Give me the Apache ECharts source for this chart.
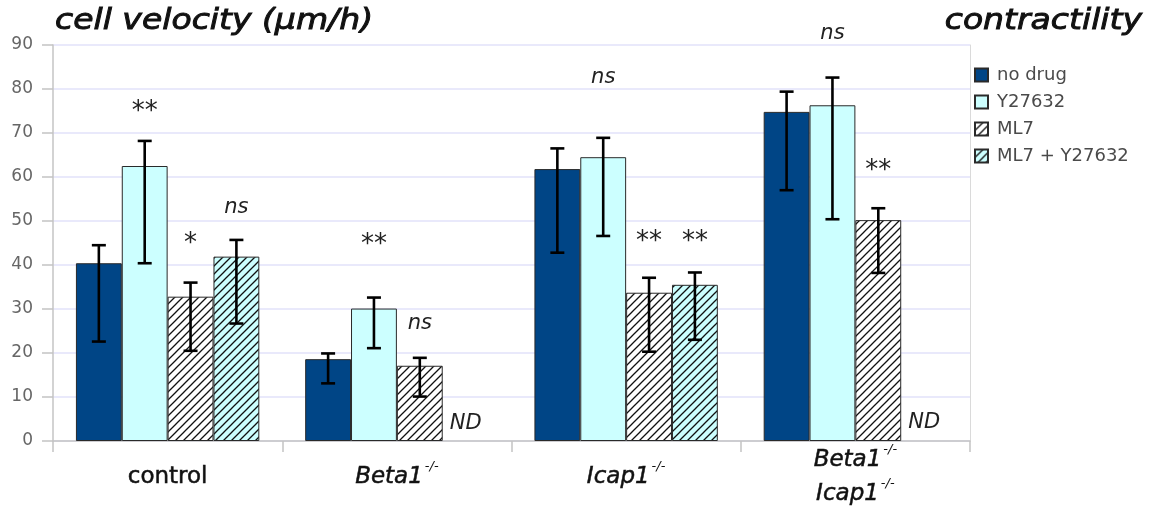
<!DOCTYPE html>
<html>
<head>
<meta charset="utf-8">
<script src="https://cdn.jsdelivr.net/npm/echarts@6/dist/echarts.min.js"></script>
<style>html,body{margin:0;padding:0;background:#fff}#c{width:1152px;height:506px}</style>
</head>
<body>
<div id="c"></div>
<script>
// ---- data ----
const categories = ['control', 'Beta1-/-', 'Icap1-/-', 'Beta1-/-\nIcap1-/-'];
const seriesNames = ['no drug', 'Y27632', 'ML7', 'ML7 + Y27632'];
const noDrug = [40.4, 18.6, 61.8, 74.8];
const y27632 = [62.5, 30.1, 64.5, 76.3];
const ml7 = [32.8, 17.1, 33.7, 50.2];
const ml7y = [41.9, null, 35.5, null];
const noDrugLow = [22.6, 13.1, 42.8, 57.0];
const noDrugHigh = [44.5, 19.9, 66.5, 79.4];
const y27632Low = [40.4, 21.1, 46.6, 50.4];
const y27632High = [68.2, 32.6, 68.9, 82.6];
const ml7Low = [20.5, 10.1, 20.3, 38.2];
const ml7High = [36.0, 18.9, 37.1, 52.9];
const ml7yLow = [26.7, null, 23.0, null];
const ml7yHigh = [45.7, null, 38.3, null];
// annotations: category index, bar index, y value, text
const annCat = [0, 0, 0, 1, 1, 1, 2, 2, 2, 3, 3, 3];
const annBar = [1, 2, 3, 1, 2, 3, 1, 2, 3, 1, 2, 3];
const annY = [74.8, 44.7, 53.0, 44.5, 26.6, 3.9, 82.7, 45.2, 45.2, 92.7, 61.3, 4.1];
const annText = ['**', '*', 'ns', '**', 'ns', 'ND', 'ns', '**', '**', 'ns', '**', 'ND'];
const yTicks = [0, 10, 20, 30, 40, 50, 60, 70, 80, 90];

// ---- build ----
function hatch(bg) {
  const c = document.createElement('canvas');
  c.width = 8; c.height = 8;
  const g = c.getContext('2d');
  g.fillStyle = bg; g.fillRect(0, 0, 8, 8);
  g.strokeStyle = '#111'; g.lineWidth = 1.3;
  g.beginPath();
  g.moveTo(0, 8); g.lineTo(8, 0);
  g.moveTo(-2, 2); g.lineTo(2, -2);
  g.moveTo(6, 10); g.lineTo(10, 6);
  g.stroke();
  return c;
}
const fills = ['#004586', '#ccffff', {image: hatch('#ffffff'), repeat: 'repeat'}, {image: hatch('#ccffff'), repeat: 'repeat'}];
const values = [noDrug, y27632, ml7, ml7y];
const lows = [noDrugLow, y27632Low, ml7Low, ml7yLow];
const highs = [noDrugHigh, y27632High, ml7High, ml7yHigh];

const errData = [];
for (let s = 0; s < 4; s++) {
  for (let c = 0; c < categories.length; c++) {
    if (lows[s][c] != null) errData.push([c, s, lows[s][c], highs[s][c]]);
  }
}
const annData = annCat.map((c, i) => [c, annBar[i], annY[i]]);

const FONT = 'DejaVu Sans';
const GAP = 0.2;

function barX(api, cat, bar) {
  const band = api.size([1, 0])[0];
  const w = band * (1 - GAP) / 4;
  return api.coord([cat, 0])[0] + (bar - 1.5) * w;
}

const series = seriesNames.map((n, s) => ({
  name: n,
  type: 'bar',
  data: values[s].map(v => v == null ? '-' : v),
  barGap: '0%',
  barCategoryGap: (GAP * 100) + '%',
  itemStyle: {color: fills[s], borderColor: '#2a2a2a', borderWidth: 1},
  z: 2
}));

series.push({
  type: 'custom',
  z: 5,
  data: errData,
  encode: {x: 0, y: [2, 3]},
  renderItem: function (params, api) {
    const cat = api.value(0), bar = api.value(1);
    const x = barX(api, cat, bar);
    const yl = api.coord([cat, api.value(2)])[1];
    const yh = api.coord([cat, api.value(3)])[1];
    const hw = 7;
    const st = {stroke: '#000', lineWidth: 2.6};
    return {
      type: 'group',
      children: [
        {type: 'line', shape: {x1: x, y1: yl, x2: x, y2: yh}, style: st},
        {type: 'line', shape: {x1: x - hw, y1: yh, x2: x + hw, y2: yh}, style: st},
        {type: 'line', shape: {x1: x - hw, y1: yl, x2: x + hw, y2: yl}, style: st}
      ]
    };
  }
});

series.push({
  type: 'custom',
  z: 6,
  clip: false,
  data: annData,
  encode: {x: 0, y: 2},
  renderItem: function (params, api) {
    const cat = api.value(0), bar = api.value(1);
    const x = barX(api, cat, bar);
    const y = api.coord([cat, api.value(2)])[1];
    const t = annText[params.dataIndex];
    const star = t.indexOf('*') >= 0;
    return {
      type: 'text',
      x: x, y: y,
      style: {
        text: t,
        fontFamily: FONT,
        fontSize: star ? 26 : 21,
        fontStyle: star ? 'normal' : 'italic',
        fill: '#222',
        align: 'center',
        verticalAlign: 'middle'
      }
    };
  }
});

function catFormatter(v) {
  return v.split('\n').map(line => {
    if (line.endsWith('-/-')) {
      return '{it|' + line.slice(0, -3) + '}{sup|-/-}';
    }
    return '{n|' + line + '}';
  }).join('\n');
}

const axisGrey = '#c4c4c4';
const titleStyle = {fontFamily: FONT, fontSize: 28, fontStyle: 'italic', fill: '#111', stroke: '#111', lineWidth: 0.9, verticalAlign: 'middle'};
const catText = {color: '#111', textBorderColor: '#111', textBorderWidth: 0.5};
const option = {
  animation: false,
  backgroundColor: '#ffffff',
  grid: {left: 53, right: 182, top: 45, bottom: 65},
  legend: {
    orient: 'vertical', left: 969, top: 61,
    icon: 'rect',
    itemWidth: 13, itemHeight: 13, itemGap: 9,
    data: seriesNames,
    textStyle: {fontFamily: FONT, fontSize: 18, color: '#4a4a4a', padding: [0, 0, 0, 4]}
  },
  graphic: [
    {type: 'text', x: 55, y: 22, scaleX: 1.18, originX: 0, originY: 0,
     style: Object.assign({text: 'cell velocity (µm/h)', align: 'left'}, titleStyle)},
    {type: 'text', x: 1142, y: 22, scaleX: 1.18, originX: 0, originY: 0,
     style: Object.assign({text: 'contractility', align: 'right'}, titleStyle)}
  ],
  xAxis: {
    type: 'category',
    data: categories,
    boundaryGap: true,
    axisLine: {show: true, lineStyle: {color: axisGrey, width: 1.5}},
    axisTick: {show: true, length: 11, lineStyle: {color: axisGrey, width: 1.5}},
    axisLabel: {
      interval: 0,
      margin: 36,
      verticalAlign: 'middle',
      formatter: catFormatter,
      rich: {
        n: Object.assign({fontFamily: FONT, fontSize: 23, lineHeight: 34}, catText),
        it: Object.assign({fontFamily: FONT, fontSize: 23, fontStyle: 'italic', lineHeight: 34}, catText),
        sup: {fontFamily: FONT, fontSize: 13, fontStyle: 'italic', color: '#111', verticalAlign: 'top', lineHeight: 34, padding: [0, 0, 0, 2]}
      }
    },
    splitLine: {show: false}
  },
  yAxis: [{
    type: 'value',
    min: yTicks[0], max: yTicks[yTicks.length - 1], interval: 10,
    axisLine: {show: true, lineStyle: {color: axisGrey, width: 1.5}},
    axisTick: {show: true, length: 11, lineStyle: {color: axisGrey, width: 1.5}},
    axisLabel: {margin: 20, fontFamily: FONT, fontSize: 17, color: '#666'},
    splitLine: {show: true, lineStyle: {color: '#e2e2fa', width: 1.5}}
  }, {
    type: 'value', position: 'right',
    min: yTicks[0], max: yTicks[yTicks.length - 1], interval: 10,
    axisLine: {show: true, lineStyle: {color: '#dadada', width: 1}},
    axisTick: {show: false}, axisLabel: {show: false}, splitLine: {show: false}
  }],
  series: series
};

const chart = echarts.init(document.getElementById('c'), null, {renderer: 'canvas'});
chart.setOption(option);
</script>
</body>
</html>
